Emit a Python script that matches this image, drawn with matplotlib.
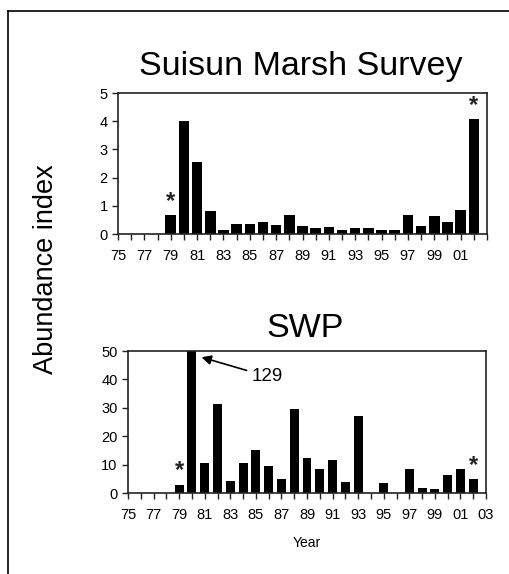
import matplotlib.pyplot as plt
from matplotlib.lines import Line2D

plt.rcParams['font.family'] = ['Liberation Sans', 'DejaVu Sans']

years = list(range(1975, 2003))
suisun = [0, 0, 0, 0, 0.68, 4.02, 2.54, 0.82, 0.15, 0.36, 0.36, 0.42, 0.32, 0.68,
          0.27, 0.21, 0.26, 0.15, 0.21, 0.21, 0.15, 0.15, 0.68, 0.27, 0.63, 0.42,
          0.84, 4.08]
swp = [0, 0, 0, 0, 2.9, 129, 10.6, 31.2, 4.4, 10.6, 15.3, 9.6, 5.0, 29.7,
       12.2, 8.6, 11.6, 3.9, 27.1, 0, 3.4, 0, 8.6, 1.8, 1.3, 6.4, 8.6, 4.9]
starred = [1979, 2002]

def style_axes(ax, ymax, ystep, last_label):
    ax.set_xlim(1975, 2003)
    ax.set_ylim(0, ymax)
    ax.set_yticks(range(0, ymax + 1, ystep))
    ticks = list(range(1975, last_label + 1, 2))
    ax.set_xticks(ticks)
    ax.set_xticklabels([f"{t % 100:02d}" for t in ticks])
    ax.set_xticks(range(1975, 2004), minor=True)
    ax.tick_params(axis='both', labelsize=10.5, length=4, width=1, color='#222222')
    ax.tick_params(axis='x', which='minor', length=4, width=1, color='#222222')
    ax.tick_params(axis='x', pad=7)
    for s in ax.spines.values():
        s.set_linewidth(1.2)
        s.set_color('#222222')

fig = plt.figure(figsize=(5.1, 5.74), dpi=100)

# top panel
ax1 = fig.add_axes([0.2314, 0.5923, 0.7235, 0.2456])
ax1.bar(years, suisun, width=0.8, color='black')
style_axes(ax1, 5, 1, 2001)
for y in starred:
    ax1.text(y, suisun[years.index(y)] + 0.08, '*', ha='center', va='bottom',
             fontsize=17, fontweight='bold', color='#222222')
fig.text(0.59, 0.869, 'Suisun Marsh Survey', ha='center', va='baseline', fontsize=24.5)

# bottom panel
ax2 = fig.add_axes([0.251, 0.1411, 0.702, 0.2474])
ax2.bar(years, swp, width=0.7, color='black')
style_axes(ax2, 50, 10, 2003)
for y in starred:
    ax2.text(y, swp[years.index(y)] + 0.8, '*', ha='center', va='bottom',
             fontsize=17, fontweight='bold', color='#222222')
ax2.annotate('129', xy=(1980.75, 47.8), xytext=(1984.7, 41),
             fontsize=13.5, va='center', ha='left',
             arrowprops=dict(arrowstyle='-|>', color='black', lw=1.2, mutation_scale=14,
                             shrinkA=2, shrinkB=0))
ax2.set_xlabel('Year', fontsize=10, labelpad=10)
fig.text(0.598, 0.413, 'SWP', ha='center', va='baseline', fontsize=24.5)

fig.text(0.09, 0.531, 'Abundance index', rotation=90, ha='center', va='center', fontsize=19.5)

# outer frame (left and top edges)
fig.add_artist(Line2D([0.016, 0.016], [0.0, 0.981], color='black', lw=1.2, transform=fig.transFigure))
fig.add_artist(Line2D([0.016, 1.0], [0.981, 0.981], color='black', lw=1.2, transform=fig.transFigure))

fig.savefig('out.png', dpi=100)
